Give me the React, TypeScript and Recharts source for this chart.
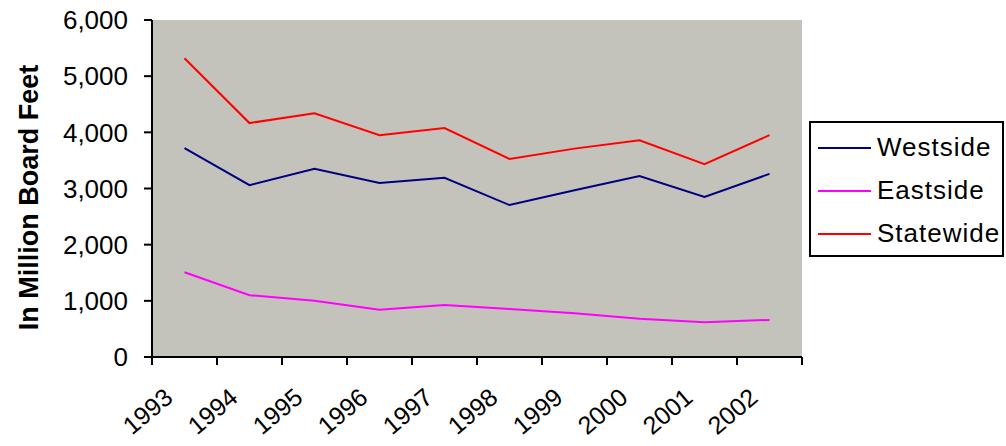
import { LineChart, Line, XAxis, YAxis, CartesianGrid, Legend } from 'recharts';

const years = ['1993', '1994', '1995', '1996', '1997', '1998', '1999', '2000', '2001', '2002'];
const westside = [3720, 3060, 3350, 3100, 3190, 2705, 2970, 3220, 2850, 3260];
const eastside = [1510, 1100, 1000, 840, 925, 855, 780, 680, 620, 660];
const statewide = [5320, 4165, 4340, 3950, 4075, 3525, 3710, 3860, 3435, 3950];
const yTicks = [0, 1000, 2000, 3000, 4000, 5000, 6000];

const seriesInfo = [
  { key: 'Westside', color: '#000080' },
  { key: 'Eastside', color: '#ff00ff' },
  { key: 'Statewide', color: '#ff0000' },
];

const data = years.map((year, i) => ({
  year,
  Westside: westside[i],
  Eastside: eastside[i],
  Statewide: statewide[i],
}));

const FONT = '"Liberation Sans", Arial, sans-serif';

function YearTick(props: any) {
  const { x, y, payload, index } = props;
  const half = payload?.offset ?? 0;
  const top = y - 7;
  const ax = x - 10;
  const ay = y + 36;
  return (
    <g>
      <line x1={x - half} y1={top} x2={x - half} y2={top + 8} stroke="#000" strokeWidth={2} />
      {index === years.length - 1 && (
        <line x1={x + half} y1={top} x2={x + half} y2={top + 8} stroke="#000" strokeWidth={2} />
      )}
      <text
        x={ax}
        y={ay}
        textAnchor="end"
        transform={`rotate(-40, ${ax}, ${ay})`}
        fontSize={25}
        fontFamily={FONT}
        fill="#000"
      >
        {payload.value}
      </text>
    </g>
  );
}

function YLabel(props: any) {
  const vb = props.viewBox || {};
  const cx = vb.x + 29;
  const cy = vb.y + vb.height / 2 + 9;
  return (
    <text
      x={cx}
      y={cy}
      textAnchor="middle"
      dominantBaseline="central"
      transform={`rotate(-90, ${cx}, ${cy})`}
      fontSize={27}
      fontWeight="bold"
      fontFamily={FONT}
      fill="#000"
    >
      In Million Board Feet
    </text>
  );
}

function LegendBox() {
  return (
    <div
      style={{
        border: '2px solid #000',
        background: '#fff',
        width: 195,
        padding: '3px 0 0',
        fontFamily: FONT,
        fontSize: 26,
        letterSpacing: 1,
        boxSizing: 'border-box',
      }}
    >
      {seriesInfo.map((s) => (
        <div key={s.key} style={{ display: 'flex', alignItems: 'center', height: 43 }}>
          <div style={{ width: 53, height: 2, background: s.color, marginLeft: 7, marginRight: 6 }} />
          <span>{s.key}</span>
        </div>
      ))}
    </div>
  );
}

export default function App() {
  return (
    <div style={{ position: 'absolute', left: 0, top: 0, background: '#fff' }}>
      <LineChart width={1006} height={446} data={data} margin={{ top: 20, right: 204, bottom: 0, left: 0 }}>
        <CartesianGrid fill="#c3c2bb" horizontal={false} vertical={false} />
        <XAxis
          dataKey="year"
          scale="band"
          height={89}
          tickLine={false}
          tickSize={7}
          tickMargin={0}
          interval={0}
          axisLine={{ stroke: '#000', strokeWidth: 2 }}
          tick={<YearTick />}
        />
        <YAxis
          width={152}
          domain={[0, 6000]}
          ticks={yTicks}
          interval={0}
          tickFormatter={(v: number) => v.toLocaleString('en-US')}
          tick={{ fontSize: 26, fontFamily: FONT, fill: '#000' }}
          tickSize={8}
          tickMargin={16}
          tickLine={{ stroke: '#000', strokeWidth: 2 }}
          axisLine={{ stroke: '#000', strokeWidth: 2 }}
          label={<YLabel />}
        />
        <Legend
          layout="vertical"
          align="center"
          verticalAlign="middle"
          content={<LegendBox />}
          wrapperStyle={{ left: 809, top: 121, width: 195 }}
        />
        {seriesInfo.map((s) => (
          <Line
            key={s.key}
            type="linear"
            dataKey={s.key}
            stroke={s.color}
            strokeWidth={2}
            dot={false}
            activeDot={false}
            isAnimationActive={false}
          />
        ))}
      </LineChart>
    </div>
  );
}
